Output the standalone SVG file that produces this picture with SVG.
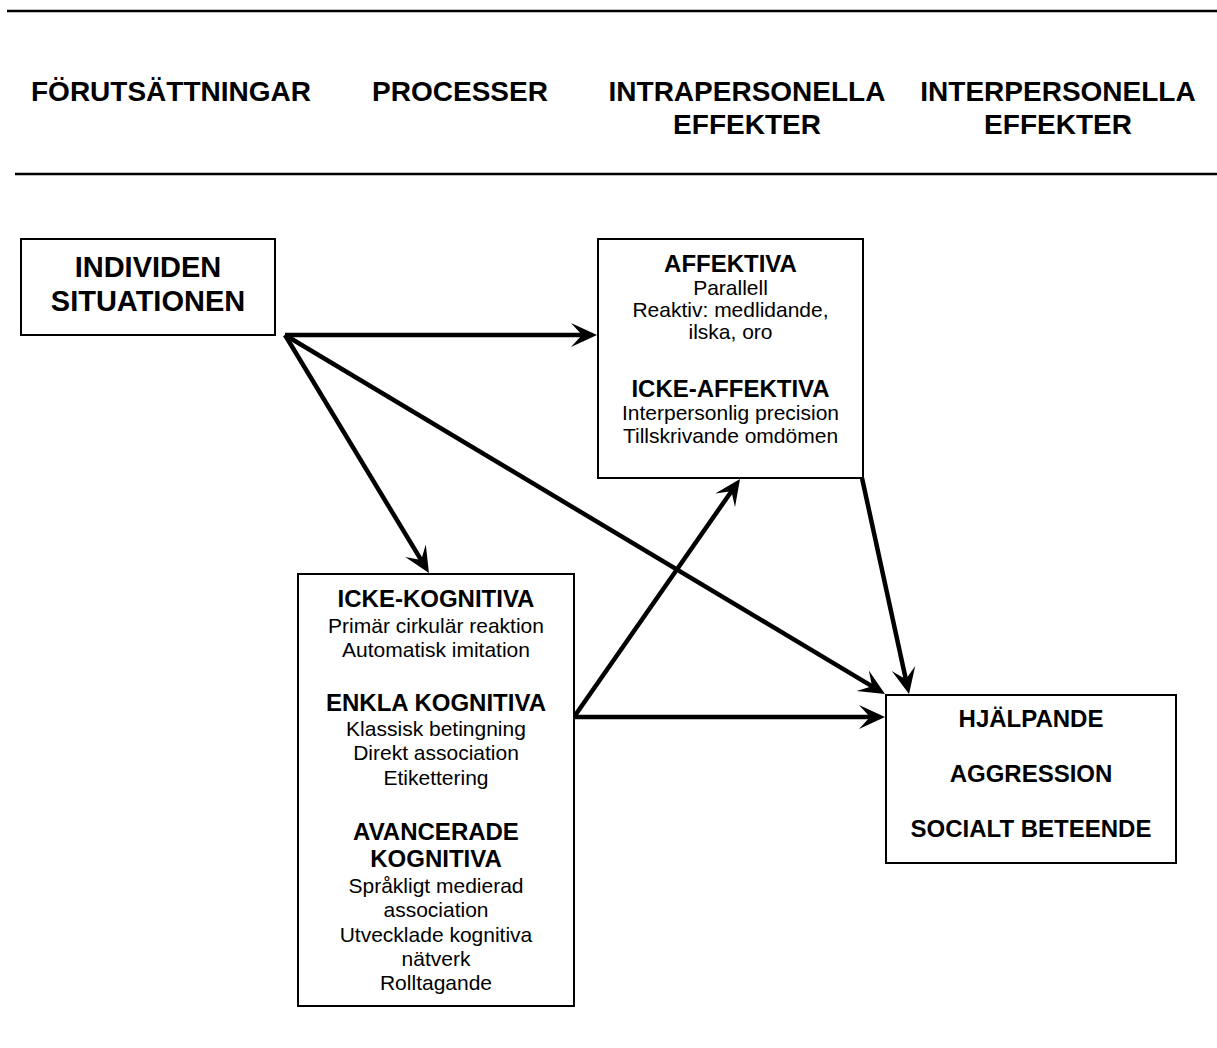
<svg xmlns="http://www.w3.org/2000/svg" width="1217" height="1048" viewBox="0 0 1217 1048">
<defs>
<style>
text{font-family:"Liberation Sans",Arial,sans-serif;fill:#000;text-anchor:middle}
.h{font-weight:bold;font-size:28px}
.b{font-weight:bold;font-size:24px}
.big{font-weight:bold;font-size:29px}
.t{font-size:21px}
.box{fill:#fff;stroke:#000;stroke-width:2}
.rule{stroke:#000;stroke-width:2.5}
.arr{stroke:#000;stroke-width:4.5;fill:none;marker-end:url(#ah)}
</style>
<marker id="ah" markerUnits="userSpaceOnUse" orient="auto" refX="0" refY="0" markerWidth="40" markerHeight="30" overflow="visible">
<path d="M10,0 L-16,-12 L-5,0 L-16,12 Z" fill="#000"/>
</marker>
</defs>
<rect width="1217" height="1048" fill="#fff"/>
<g id="header">
<line class="rule" x1="7" y1="11" x2="1217" y2="11"/>
<line class="rule" x1="15" y1="174" x2="1217" y2="174"/>
<text class="h" x="171" y="101">FÖRUTSÄTTNINGAR</text>
<text class="h" x="460" y="101">PROCESSER</text>
<text class="h" x="747" y="101">INTRAPERSONELLA</text>
<text class="h" x="747" y="134">EFFEKTER</text>
<text class="h" x="1058" y="101">INTERPERSONELLA</text>
<text class="h" x="1058" y="134">EFFEKTER</text>
</g>
<g id="connectors">
<line class="arr" x1="285" y1="335" x2="587" y2="335"/>
<line class="arr" x1="285" y1="335" x2="423.8" y2="564.4"/>
<line class="arr" x1="285" y1="335" x2="876.4" y2="688.9"/>
<line class="arr" x1="574" y1="717" x2="734.3" y2="487.2"/>
<line class="arr" x1="574" y1="717" x2="875" y2="717"/>
<line class="arr" x1="862" y1="478" x2="906.9" y2="684.2"/>
</g>
<g id="individen">
<rect class="box" x="21" y="239" width="254" height="96"/>
<text class="big" x="148" y="277">INDIVIDEN</text>
<text class="big" x="148" y="311">SITUATIONEN</text>
</g>
<g id="intrapersonella">
<rect class="box" x="598" y="239" width="265" height="239"/>
<text class="b" x="730.5" y="272">AFFEKTIVA</text>
<text class="t" x="730.5" y="295">Parallell</text>
<text class="t" x="730.5" y="317">Reaktiv: medlidande,</text>
<text class="t" x="730.5" y="339">ilska, oro</text>
<text class="b" x="730.5" y="397">ICKE-AFFEKTIVA</text>
<text class="t" x="730.5" y="420">Interpersonlig precision</text>
<text class="t" x="730.5" y="443">Tillskrivande omdömen</text>
</g>
<g id="processer">
<rect class="box" x="298" y="574" width="276" height="432"/>
<text class="b" x="436" y="607">ICKE-KOGNITIVA</text>
<text class="t" x="436" y="633">Primär cirkulär reaktion</text>
<text class="t" x="436" y="657">Automatisk imitation</text>
<text class="b" x="436" y="711">ENKLA KOGNITIVA</text>
<text class="t" x="436" y="736">Klassisk betingning</text>
<text class="t" x="436" y="760">Direkt association</text>
<text class="t" x="436" y="785">Etikettering</text>
<text class="b" x="436" y="840">AVANCERADE</text>
<text class="b" x="436" y="867">KOGNITIVA</text>
<text class="t" x="436" y="893">Språkligt medierad</text>
<text class="t" x="436" y="917">association</text>
<text class="t" x="436" y="942">Utvecklade kognitiva</text>
<text class="t" x="436" y="966">nätverk</text>
<text class="t" x="436" y="990">Rolltagande</text>
</g>
<g id="beteende">
<rect class="box" x="886" y="695" width="290" height="168"/>
<text class="b" x="1031" y="727">HJÄLPANDE</text>
<text class="b" x="1031" y="782">AGGRESSION</text>
<text class="b" x="1031" y="837">SOCIALT BETEENDE</text>
</g>
</svg>
